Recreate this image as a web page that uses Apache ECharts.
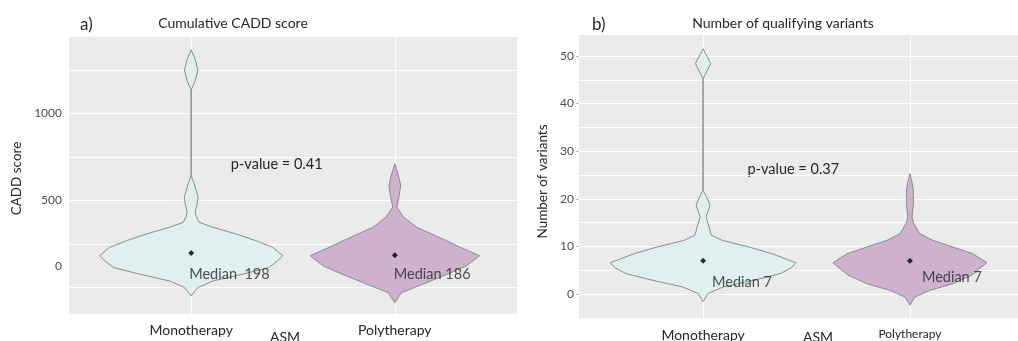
<!DOCTYPE html>
<html>
<head>
<meta charset="utf-8">
<script src="https://cdn.jsdelivr.net/npm/echarts@6/dist/echarts.min.js"></script>
<style>
  html, body { margin: 0; padding: 0; background: #ffffff; }
  #chart { width: 1018px; height: 341px; }
</style>
</head>
<body>
<div id="chart"></div>
<script>
// Treatment groups (x positions 1 and 2 on each panel)
const groups = ['Monotherapy', 'Polytherapy'];
const groupFills = ['#dff0ef', '#cdb1cd'];

// Panel a) cumulative CADD score – violin outlines: value and half-width (in group units)
const caddMonoValues = [-48, 0, 38, 77, 115, 154, 183, 231, 269, 308, 346, 375, 410, 442, 480, 519, 560, 596, 644, 1135, 1190, 1250, 1310, 1366];
const caddMonoHalf   = [0, 0.033, 0.106, 0.254, 0.381, 0.425, 0.45, 0.401, 0.318, 0.22, 0.108, 0.039, 0.024, 0.02, 0.029, 0.034, 0.024, 0.015, 0, 0, 0.02, 0.033, 0.02, 0];
const caddPolyValues = [-87, -29, 19, 77, 125, 183, 231, 269, 308, 346, 404, 462, 519, 587, 654, 712];
const caddPolyHalf   = [0, 0.033, 0.137, 0.259, 0.352, 0.416, 0.323, 0.254, 0.181, 0.108, 0.044, 0.01, 0.02, 0.029, 0.015, 0];
const caddMedians = [198, 186];
const caddMedianPrefix = ['Median  ', 'Median '];
const caddPValue = 'p-value = 0.41';
const caddLabels = [0, 500, 1000];
const caddGridValues = [0, 250, 500, 750, 1000, 1250];

// Panel b) number of qualifying variants – violin outlines
const varMonoValues = [-1.6, 0.15, 1.5, 2.9, 4.3, 5.5, 6.6, 8.5, 9.9, 11.3, 12.4, 14.1, 16.2, 18.7, 20.4, 21.8, 45.2, 48.4, 51.5];
const varMonoHalf   = [0, 0.024, 0.097, 0.242, 0.372, 0.425, 0.449, 0.333, 0.222, 0.092, 0.039, 0.029, 0.014, 0.034, 0.017, 0, 0, 0.037, 0];
const varPolyValues = [-2.3, -0.6, 0.8, 2.2, 4.0, 6.6, 8.5, 9.9, 11.3, 12.7, 14.8, 16.2, 19.0, 21.8, 23.5, 25.3];
const varPolyHalf   = [0, 0.024, 0.097, 0.208, 0.3, 0.372, 0.304, 0.208, 0.111, 0.048, 0.019, 0.01, 0.017, 0.017, 0.01, 0];
const varMedians = [7, 7];
const varMedianPrefix = ['Median ', 'Median '];
const varPValue = 'p-value = 0.37';
const varLabels = [0, 10, 20, 30, 40, 50];
const varGridValues = [0, 5, 10, 15, 20, 25, 30, 35, 40, 45, 50];

const FONT = 'Lato';
const TEXT = '#262626';
const AXIS_TEXT = '#4d4d4d';

const chart = echarts.init(document.getElementById('chart'), null, { renderer: 'canvas' });

function violinSeries(panel, profiles) {
  return {
    type: 'custom',
    xAxisIndex: panel,
    yAxisIndex: panel,
    silent: true,
    data: profiles.map((p, i) => [i + 1, p.values[0]]),
    encode: { x: 0, y: 1 },
    renderItem(params, api) {
      const i = params.dataIndex;
      const p = profiles[i];
      const cx = i + 1;
      const pts = [];
      for (let k = 0; k < p.values.length; k++) pts.push(api.coord([cx + p.half[k], p.values[k]]));
      for (let k = p.values.length - 1; k >= 0; k--) pts.push(api.coord([cx - p.half[k], p.values[k]]));
      return {
        type: 'polygon',
        shape: { points: pts },
        style: { fill: groupFills[i], stroke: '#8c8c8c', lineWidth: 1 }
      };
    }
  };
}

function medianSeries(panel, medians, prefixes, shifts) {
  return {
    type: 'scatter',
    xAxisIndex: panel,
    yAxisIndex: panel,
    symbol: 'diamond',
    symbolSize: 6,
    silent: true,
    itemStyle: { color: '#000000' },
    data: medians.map((m, i) => ({
      value: [i + 1, m],
      label: {
        show: true,
        position: 'inside',
        align: 'left',
        verticalAlign: 'middle',
        offset: shifts[i],
        formatter: prefixes[i] + m,
        color: TEXT,
        fontFamily: FONT,
        fontSize: 14.5
      }
    }))
  };
}

function xAxisFor(panel, richPoly) {
  return {
    type: 'value',
    gridIndex: panel,
    min: 0.4,
    max: 2.6,
    axisLine: { show: false },
    axisTick: { show: true, customValues: [1, 2], length: 3, lineStyle: { color: '#d9d9d9' } },
    splitLine: { show: true, lineStyle: { color: '#ffffff', width: 1 } },
    axisLabel: {
      customValues: [1, 2],
      margin: panel === 0 ? 9 : 10,
      color: TEXT,
      fontFamily: FONT,
      fontSize: 14,
      formatter: v => {
        const name = groups[Math.round(v) - 1];
        return (richPoly && Math.round(v) === 2) ? '{small|' + name + '}' : name;
      },
      rich: { small: { fontFamily: FONT, fontSize: 12, color: TEXT, padding: [0, 0, 2, 0] } }
    }
  };
}

// gridlines of a panel (no labels, no ticks)
function gridYAxis(panel, min, max, gridValues) {
  return {
    type: 'value',
    gridIndex: panel,
    position: 'left',
    min: min,
    max: max,
    axisLine: { show: false },
    axisTick: { show: false, customValues: gridValues },
    axisLabel: { show: false },
    splitLine: { show: true, lineStyle: { color: '#ffffff', width: 1 } }
  };
}

const option = {
  animation: false,
  backgroundColor: '#ffffff',
  grid: [
    { left: 69, top: 37, width: 448, height: 277, show: true, backgroundColor: '#ebebeb', borderWidth: 0, outerBoundsMode: 'none' },
    { left: 579, top: 35, width: 455, height: 283, show: true, backgroundColor: '#ebebeb', borderWidth: 0, outerBoundsMode: 'none' }
  ],
  xAxis: [xAxisFor(0, false), xAxisFor(1, true)],
  yAxis: [
    gridYAxis(0, -152, 1440, caddGridValues),
    gridYAxis(1, -5, 54.4, varGridValues),
    {
      type: 'value',
      gridIndex: 0,
      position: 'left',
      offset: 0,
      min: -152,
      max: 1440,
      name: 'CADD score',
      nameLocation: 'middle',
      nameGap: 45,
      nameTextStyle: { fontFamily: FONT, fontSize: 13.5, color: TEXT, padding: [0, 0, 0, -6] },
      axisLine: { show: false },
      axisTick: { show: false, customValues: caddLabels },
      splitLine: { show: false },
      axisLabel: {
        customValues: caddLabels,
        margin: 7,
        color: AXIS_TEXT,
        fontFamily: FONT,
        fontSize: 12,
        // the zero label is set a little above its gridline
        formatter: v => (v === 0 ? '{raised|' + v + '}' : String(v)),
        rich: { raised: { fontFamily: FONT, fontSize: 12, color: AXIS_TEXT, padding: [0, 0, 42, 0] } }
      }
    },
    {
      type: 'value',
      gridIndex: 1,
      position: 'left',
      offset: 0,
      min: -5,
      max: 54.4,
      name: 'Number of variants',
      nameLocation: 'middle',
      nameGap: 29,
      nameTextStyle: { fontFamily: FONT, fontSize: 13.5, color: TEXT, padding: [0, 0, 0, -10] },
      axisLine: { show: false },
      axisTick: { show: true, length: 3, customValues: varLabels, lineStyle: { color: '#b3b3b3' } },
      splitLine: { show: false },
      axisLabel: {
        customValues: varLabels,
        margin: 5,
        color: AXIS_TEXT,
        fontFamily: FONT,
        fontSize: 12
      }
    }
  ],
  graphic: [
    { type: 'text', x: 80, y: 25, style: { text: 'a)', font: '17px ' + FONT, fill: TEXT, verticalAlign: 'middle' } },
    { type: 'text', x: 233, y: 23, style: { text: 'Cumulative CADD score', font: '14px ' + FONT, fill: TEXT, align: 'center', verticalAlign: 'middle' } },
    { type: 'text', x: 592, y: 25, style: { text: 'b)', font: '17px ' + FONT, fill: TEXT, verticalAlign: 'middle' } },
    { type: 'text', x: 783, y: 23, style: { text: 'Number of qualifying variants', font: '14px ' + FONT, fill: TEXT, align: 'center', verticalAlign: 'middle' } },
    { type: 'text', x: 276.7, y: 164.3, style: { text: caddPValue, font: '14.5px ' + FONT, fill: TEXT, align: 'center', verticalAlign: 'middle' } },
    { type: 'text', x: 793.3, y: 169.3, style: { text: varPValue, font: '14.5px ' + FONT, fill: TEXT, align: 'center', verticalAlign: 'middle' } },
    { type: 'text', x: 285, y: 337, style: { text: 'ASM', font: '14px ' + FONT, fill: TEXT, align: 'center', verticalAlign: 'middle' } },
    { type: 'text', x: 818, y: 337, style: { text: 'ASM', font: '14px ' + FONT, fill: TEXT, align: 'center', verticalAlign: 'middle' } }
  ],
  series: [
    violinSeries(0, [
      { values: caddMonoValues, half: caddMonoHalf },
      { values: caddPolyValues, half: caddPolyHalf }
    ]),
    violinSeries(1, [
      { values: varMonoValues, half: varMonoHalf },
      { values: varPolyValues, half: varPolyHalf }
    ]),
    medianSeries(0, caddMedians, caddMedianPrefix, [[-2, 21], [-1, 19]]),
    medianSeries(1, varMedians, varMedianPrefix, [[9, 21], [12, 16]])
  ]
};

chart.setOption(option);
</script>
</body>
</html>
